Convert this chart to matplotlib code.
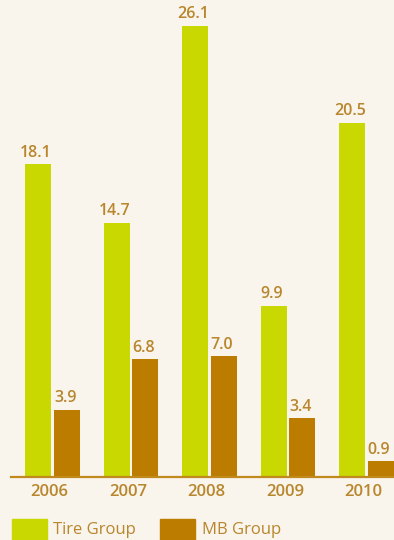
import matplotlib.pyplot as plt
from matplotlib.patches import Rectangle

years = ["2006", "2007", "2008", "2009", "2010"]
tire = [18.1, 14.7, 26.1, 9.9, 20.5]
mb = [3.9, 6.8, 7.0, 3.4, 0.9]

BG = "#f9f4ec"
GREEN = "#c8d800"
BROWN = "#bb7c00"
TEXT = "#b8862c"

plt.rcParams["font.family"] = ["Open Sans", "DejaVu Sans"]

fig = plt.figure(figsize=(3.94, 5.4), dpi=100, facecolor=BG)
ax = fig.add_axes([11 / 394, 63 / 540, 383 / 394, 477 / 540])
ax.set_facecolor(BG)

x = list(range(len(years)))
w = 26 / 78.5
ax.bar([i - 0.146 for i in x], tire, width=w, color=GREEN)
ax.bar([i + 0.223 for i in x], mb, width=w, color=BROWN)

for i in x:
    ax.annotate(f"{tire[i]:.1f}", (i - 0.17, tire[i]), xytext=(0, 2.5),
                textcoords="offset points", ha="center", va="bottom",
                color=TEXT, fontsize=11.5, fontweight="semibold")
    ax.annotate(f"{mb[i]:.1f}", (i + 0.2, mb[i]), xytext=(0, 2.5),
                textcoords="offset points", ha="center", va="bottom",
                color=TEXT, fontsize=11.5, fontweight="semibold")

ax.set_xlim(-0.49, 4.389)
ax.set_ylim(0, 27.6)
ax.set_xticks(x)
ax.set_xticklabels(years, color=TEXT, fontsize=12, fontweight="semibold")
ax.tick_params(axis="x", length=0, pad=5)
ax.set_yticks([])
for s in ["top", "right", "left"]:
    ax.spines[s].set_visible(False)
ax.spines["bottom"].set_color("#c08a1c")
ax.spines["bottom"].set_linewidth(1.6)

# legend
fig.add_artist(Rectangle((12 / 394, 0), 35 / 394, 21 / 540,
                         transform=fig.transFigure, color=GREEN))
fig.text(53 / 394, 10 / 540, "Tire Group", color=TEXT, fontsize=12,
         va="center", ha="left")
fig.add_artist(Rectangle((160 / 394, 0), 35 / 394, 21 / 540,
                         transform=fig.transFigure, color=BROWN))
fig.text(202 / 394, 10 / 540, "MB Group", color=TEXT, fontsize=12,
         va="center", ha="left")

fig.savefig("out.png", facecolor=BG)
